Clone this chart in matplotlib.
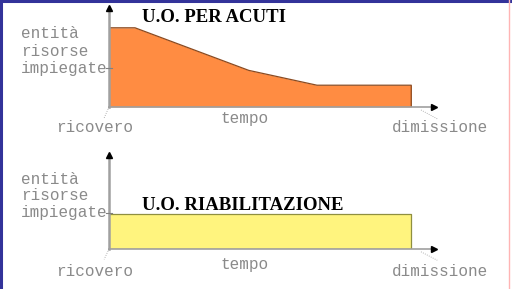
import matplotlib
matplotlib.use('Agg')
import matplotlib.pyplot as plt
from matplotlib.lines import Line2D

# dati: tempo (0 = ricovero) e risorse impiegate
acuti_t = [0, 0.8, 4.3, 6.4, 9.3]
acuti_r = [8.0, 8.0, 3.7, 2.2, 2.2]
riab_t = [0, 9.3]
riab_r = [3.7, 3.7]

titoli = ['U.O. PER ACUTI', 'U.O. RIABILITAZIONE']
y_label = ['entità', 'risorse', 'impiegate']
x_start, x_mid, x_end = 'ricovero', 'tempo', 'dimissione'

W, H = 512, 289
fig = plt.figure(figsize=(W / 100, H / 100), dpi=100)
fig.patch.set_facecolor('white')


def px_box(x0, y0, x1, y1):
    # pixel box (top-left origin) -> figure fraction rect
    return [x0 / W, 1 - y1 / H, (x1 - x0) / W, (y1 - y0) / H]


def pannello(rect, t, r, fill, edge, titolo, title_y, tick_y):
    ax = fig.add_axes(rect)
    ax.set_xlim(0, 10)
    ax.set_ylim(0, 10)
    ax.axis('off')
    ax.fill_between(t, r, 0, color=fill, lw=0)
    ax.plot(t + [t[-1]], r + [0], color=edge, lw=0.9)
    ax.plot([0, t[-1]], [0, 0], color=edge, lw=0.9)
    # assi con freccia
    ax.plot([0, 0], [0, 10], color='#a0a0a0', lw=1.8, clip_on=False)
    ax.plot([0, 10], [0, 0], color='#a0a0a0', lw=1.2, clip_on=False)
    ax.plot([0], [10], marker='^', color='black', ms=5, clip_on=False)
    ax.plot([10], [0], marker='>', color='black', ms=5, clip_on=False)
    ax.plot([-0.1, 0.1], [tick_y, tick_y], color='#808080', lw=0.8, clip_on=False)
    # tratteggi verso le etichette
    ax.plot([0, -0.15], [0, -1.1], color='#999999', lw=0.6, ls=':', clip_on=False)
    ax.plot([9.6, 10.1], [-0.3, -1.2], color='#999999', lw=0.6, ls=':', clip_on=False)
    ax.text(1.0, title_y, titolo, fontsize=13.5, fontweight='bold',
            family='Liberation Serif', color='black', va='baseline', ha='left')
    return ax


ax1 = pannello(px_box(109, 8, 434, 107), acuti_t, acuti_r,
               '#ff8c42', '#8a4a20', titoli[0], 8.6, 3.9)
ax2 = pannello(px_box(109, 155, 434, 249), riab_t, riab_r,
               '#fff47e', '#8f8f40', titoli[1], 4.2, 3.8)

# etichette (sfocate, larghe, grigie)
lab = dict(fontsize=11.5, color='#8a8a8a', family='Liberation Mono')
for base in (0, 145):
    for i, s in enumerate(y_label):
        fig.text(21 / W, 1 - (base + 34 + i * 17) / H, s, va='center', ha='left', **lab)
    fig.text(95 / W, 1 - (base + 127) / H, x_start, va='center', ha='center', **lab)
    fig.text(245 / W, 1 - (base + 119) / H, x_mid, va='center', ha='center', **lab)
    fig.text(440 / W, 1 - (base + 127) / H, x_end, va='center', ha='center', **lab)

# cornice
fig.add_artist(Line2D([1 / W, 1 / W], [0, 1], color='#33339a', lw=2.2, transform=fig.transFigure))
fig.add_artist(Line2D([0, 1], [1 - 1 / H, 1 - 1 / H], color='#33339a', lw=2.2, transform=fig.transFigure))
fig.add_artist(Line2D([509 / W, 509 / W], [0, 1], color='#ffb4b4', lw=1.0, transform=fig.transFigure))

fig.savefig('out.png', dpi=100)
